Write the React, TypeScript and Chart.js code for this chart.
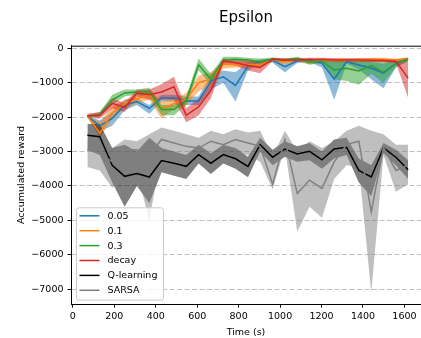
import React, { useEffect, useRef } from 'react';
import { Chart, registerables } from 'chart.js';

Chart.register(...registerables);

// ---------- data ----------
const times = [70, 130, 190, 250, 309, 369, 428, 488, 547, 607, 666, 726, 785, 845, 904, 964, 1023, 1083, 1142, 1202, 1261, 1321, 1380, 1440, 1499, 1559, 1618];

const eps005 = [-1970, -2257, -2040, -1650, -1550, -1750, -1443, -1443, -1530, -1530, -950, -830, -1080, -520, -392, -350, -535, -373, -344, -440, -900, -392, -488, -583, -727, -440, -316];
const eps005Hi = [-1950, -2100, -1850, -1500, -1450, -1650, -1350, -1350, -1400, -1400, -750, -650, -700, -400, -330, -300, -450, -320, -300, -330, -330, -330, -350, -400, -450, -330, -280];
const eps005Lo = [-2000, -2420, -2250, -1800, -1650, -1900, -1550, -1550, -1650, -1650, -1200, -1000, -1550, -650, -450, -420, -700, -430, -400, -560, -1500, -450, -620, -900, -1160, -560, -380];

const eps01 = [-1970, -2470, -1874, -1620, -1470, -1350, -1750, -1610, -1480, -1000, -900, -460, -480, -480, -470, -330, -400, -330, -400, -340, -350, -350, -350, -330, -330, -360, -300];
const eps01Hi = [-1950, -2150, -1700, -1500, -1350, -1200, -1550, -1450, -1300, -800, -700, -380, -400, -400, -380, -290, -330, -290, -330, -300, -300, -300, -290, -280, -280, -300, -270];
const eps01Lo = [-2000, -2600, -2050, -1750, -1600, -1500, -2050, -1750, -1650, -1250, -1100, -600, -560, -560, -560, -380, -470, -380, -470, -400, -420, -420, -420, -400, -400, -430, -340];

const eps03 = [-1970, -1922, -1500, -1300, -1270, -1260, -1780, -1780, -1520, -480, -900, -340, -320, -344, -392, -316, -344, -297, -411, -373, -631, -583, -660, -507, -700, -440, -316];
const eps03Hi = [-1950, -1850, -1350, -1200, -1200, -1150, -1650, -1650, -1400, -300, -750, -250, -250, -280, -300, -270, -300, -250, -340, -320, -350, -350, -380, -350, -400, -330, -280];
const eps03Lo = [-2000, -2000, -1650, -1400, -1350, -1400, -1950, -1950, -1650, -650, -1050, -420, -400, -420, -450, -360, -420, -350, -480, -430, -900, -950, -1060, -750, -1000, -550, -360];

const decay = [-1960, -1950, -1600, -1720, -1300, -1350, -1270, -1120, -1950, -1700, -1230, -370, -420, -500, -560, -320, -340, -340, -330, -330, -340, -340, -340, -350, -360, -380, -870];
const decayHi = [-1900, -1850, -1450, -1600, -1200, -1200, -1050, -830, -1750, -1450, -1000, -300, -350, -350, -400, -280, -290, -290, -280, -280, -290, -290, -290, -300, -310, -330, -380];
const decayLo = [-2000, -2050, -1750, -1850, -1400, -1500, -1500, -1500, -2150, -1950, -1450, -450, -500, -650, -730, -370, -390, -390, -380, -380, -390, -390, -390, -400, -410, -430, -1440];

const qLearning = [-2530, -2570, -3400, -3720, -3640, -3740, -3260, -3340, -3430, -3090, -3340, -3090, -3210, -3430, -2800, -3165, -2926, -3070, -2993, -3241, -2926, -2878, -3547, -3738, -2898, -3165, -3528];
const qLearningHi = [-2200, -2200, -2900, -2800, -3000, -2600, -2900, -3000, -3100, -2800, -3050, -2800, -2900, -3150, -2600, -2950, -2700, -2850, -2750, -3000, -2650, -2600, -3200, -3400, -2750, -2950, -3250];
const qLearningLo = [-2950, -3100, -3900, -4600, -4000, -4500, -3600, -3700, -3800, -3350, -3650, -3350, -3500, -3750, -3000, -3400, -3150, -3300, -3250, -3500, -3200, -3100, -3900, -4300, -3050, -3400, -3800];

const sarsa = [-2950, -3050, -3300, -2950, -2950, -3100, -2650, -2750, -2850, -2900, -2700, -2800, -2650, -2750, -2850, -3950, -2650, -4220, -3830, -4070, -3300, -2800, -2700, -4750, -2880, -3550, -3400];
const sarsaHi = [-2700, -2750, -2900, -2650, -2700, -2500, -2300, -2400, -2500, -2600, -2400, -2500, -2350, -2450, -2400, -3150, -2400, -3000, -2700, -2900, -2700, -2400, -2250, -2400, -2500, -2800, -2800];
const sarsaLo = [-3450, -3550, -4050, -3800, -3600, -5000, -3000, -3100, -3200, -3200, -3100, -3100, -3050, -3100, -3300, -4100, -2900, -5330, -4600, -4920, -3800, -3400, -3450, -7100, -3100, -4170, -3950];

const seriesLabels = ['0.05', '0.1', '0.3', 'decay', 'Q-learning', 'SARSA'];
const xTicks = [0, 200, 400, 600, 800, 1000, 1200, 1400, 1600];
const yTicks = [0, -1000, -2000, -3000, -4000, -5000, -6000, -7000];

// ---------- styling ----------
const FONT = 'DejaVu Sans';
const series = [
  { label: seriesLabels[0], mean: eps005, hi: eps005Hi, lo: eps005Lo, color: '#1f77b4', band: 'rgba(31,119,180,0.5)' },
  { label: seriesLabels[1], mean: eps01, hi: eps01Hi, lo: eps01Lo, color: '#ff7f0e', band: 'rgba(255,127,14,0.5)' },
  { label: seriesLabels[2], mean: eps03, hi: eps03Hi, lo: eps03Lo, color: '#2ca02c', band: 'rgba(44,160,44,0.5)' },
  { label: seriesLabels[3], mean: decay, hi: decayHi, lo: decayLo, color: '#d62728', band: 'rgba(214,39,40,0.5)' },
  { label: seriesLabels[4], mean: qLearning, hi: qLearningHi, lo: qLearningLo, color: '#000000', band: 'rgba(0,0,0,0.5)' },
  { label: seriesLabels[5], mean: sarsa, hi: sarsaHi, lo: sarsaLo, color: '#808080', band: 'rgba(128,128,128,0.5)' },
];

const pts = (ys: number[]) => ys.map((y, i) => ({ x: times[i], y }));

function buildDatasets() {
  const ds: any[] = [];
  series.forEach((s, i) => {
    const loIdx = ds.length;
    ds.push({
      label: s.label + ' lo', data: pts(s.lo), borderWidth: 0, borderColor: 'rgba(0,0,0,0)',
      pointRadius: 0, fill: false, order: 40,
    });
    ds.push({
      label: s.label + ' hi', data: pts(s.hi), borderWidth: 0, borderColor: 'rgba(0,0,0,0)',
      backgroundColor: s.band, pointRadius: 0, fill: { target: loIdx }, order: 30 - i,
    });
    ds.push({
      label: s.label, data: pts(s.mean), borderColor: s.color, borderWidth: 1.5,
      pointRadius: 0, fill: false, order: 10 - i,
    });
  });
  return ds;
}

const frameLegendPlugin = {
  id: 'frameLegend',
  afterDatasetsDraw(chart: any) {
    const { ctx, chartArea } = chart;
    ctx.save();
    // top spine
    ctx.strokeStyle = '#000';
    ctx.lineWidth = 1;
    ctx.beginPath();
    ctx.moveTo(chartArea.left, chartArea.top + 0.5);
    ctx.lineTo(chartArea.right, chartArea.top + 0.5);
    ctx.stroke();

    // legend (lower left)
    const bx = chartArea.left + 5;
    const rowH = 14.9;
    const h = rowH * series.length + 3;
    const by = chartArea.bottom - 4.5 - h;
    const w = 87;
    ctx.fillStyle = 'rgba(255,255,255,0.8)';
    ctx.strokeStyle = '#cccccc';
    ctx.lineWidth = 1;
    ctx.beginPath();
    if (ctx.roundRect) ctx.roundRect(bx + 0.5, by + 0.5, w, h, 2.5);
    else ctx.rect(bx + 0.5, by + 0.5, w, h);
    ctx.fill();
    ctx.stroke();
    ctx.font = `9.5px "${FONT}"`;
    ctx.textBaseline = 'middle';
    ctx.textAlign = 'left';
    series.forEach((s, i) => {
      const cy = by + 8.5 + i * rowH;
      ctx.strokeStyle = s.color;
      ctx.lineWidth = 1.5;
      ctx.beginPath();
      ctx.moveTo(bx + 3.5, cy);
      ctx.lineTo(bx + 23.5, cy);
      ctx.stroke();
      ctx.fillStyle = '#000';
      ctx.fillText(s.label, bx + 31.5, cy + 0.5);
    });
    ctx.restore();
  },
};

export default function App() {
  const ref = useRef<HTMLCanvasElement | null>(null);
  useEffect(() => {
    if (!ref.current) return;
    Chart.defaults.font.family = FONT;
    Chart.defaults.color = '#000';
    const chart = new Chart(ref.current, {
      type: 'line',
      data: { datasets: buildDatasets() },
      plugins: [frameLegendPlugin],
      options: {
        animation: false,
        responsive: false,
        devicePixelRatio: 1,
        events: [],
        layout: { padding: { left: 0, right: 0, top: 0, bottom: 0 } },
        elements: { line: { tension: 0 }, point: { radius: 0 } },
        plugins: {
          legend: { display: false },
          tooltip: { enabled: false },
          filler: { drawTime: 'beforeDatasetsDraw', propagate: false },
          title: {
            display: true,
            text: 'Epsilon',
            fullSize: false,
            color: '#000',
            font: { family: FONT, size: 15, weight: 'normal' },
            padding: { top: 9, bottom: 18.7 },
          },
        },
        scales: {
          x: {
            type: 'linear',
            min: -9,
            max: 1680,
            afterBuildTicks: (scale: any) => { scale.ticks = xTicks.map((v) => ({ value: v })); },
            ticks: {
              font: { family: FONT, size: 9.5 }, color: '#000', padding: 3, maxRotation: 0, autoSkip: false,
              callback: (v: any) => String(v),
            },
            grid: { drawOnChartArea: false, drawTicks: true, tickLength: 3.5, tickColor: '#000', tickWidth: 1 },
            border: { display: true, color: '#000', width: 1 },
            title: { display: true, text: 'Time (s)', color: '#000', font: { family: FONT, size: 9.5 }, padding: { top: 1.5, bottom: 0 } },
          },
          y: {
            type: 'linear',
            min: -7432,
            max: 72,
            afterBuildTicks: (scale: any) => { scale.ticks = yTicks.map((v) => ({ value: v })); },
            afterFit: (scale: any) => { scale.width = 71; },
            ticks: {
              font: { family: FONT, size: 9.5 }, color: '#000', padding: 4, autoSkip: false,
              callback: (v: any) => (v < 0 ? '\u2212' + Math.abs(v) : String(v)),
            },
            grid: { drawOnChartArea: true, color: '#b0b0b0', lineWidth: 0.8, drawTicks: true, tickLength: 3.5, tickColor: '#000', tickWidth: 1 },
            border: { display: true, color: '#000', width: 1, dash: [5, 2.5] },
            title: { display: true, text: 'Accumulated reward', color: '#000', font: { family: FONT, size: 9.5 }, padding: { top: 16, bottom: 0 } },
          },
        },
      } as any,
    });
    return () => chart.destroy();
  }, []);
  return (
    <div style={{ position: 'absolute', left: 0, top: 0, width: 421, height: 338 }}>
      <canvas ref={ref} width={421} height={338} style={{ display: 'block' }} />
    </div>
  );
}
